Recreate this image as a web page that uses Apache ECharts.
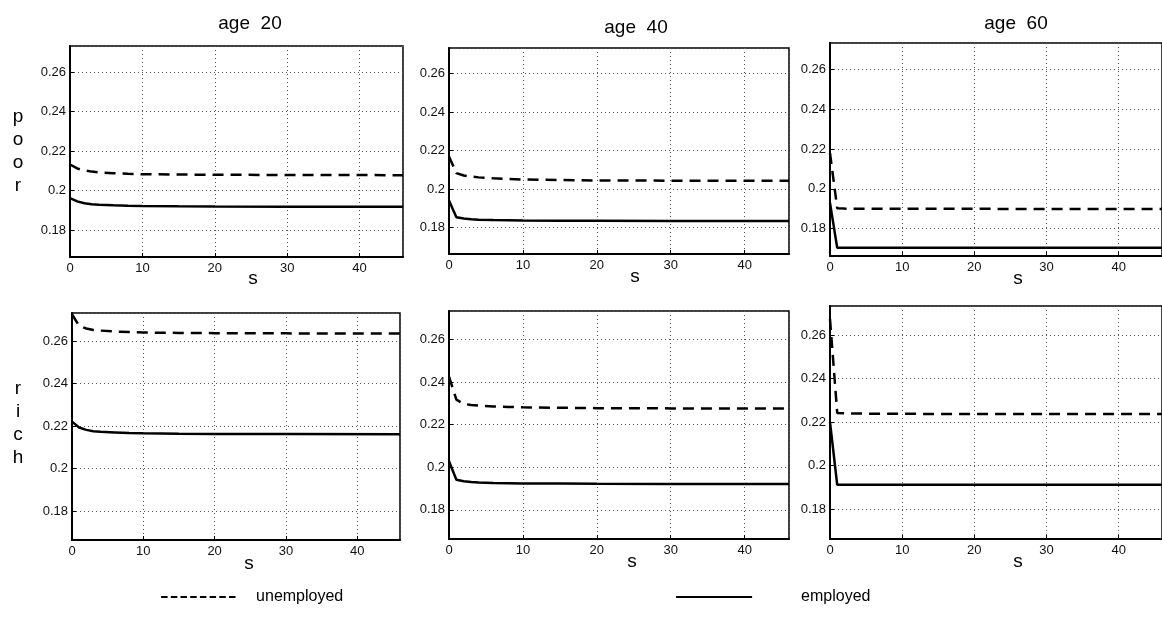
<!DOCTYPE html>
<html>
<head>
<meta charset="utf-8">
<script src="https://cdn.jsdelivr.net/npm/echarts@6/dist/echarts.min.js"></script>
<style>
  html, body { margin: 0; padding: 0; background: #fff; }
  #chart { width: 1162px; height: 637px; }
</style>
</head>
<body>
<div id="chart"></div>
<script>
// Horizon s (years ahead) at which each profile is evaluated
const S = [0, 1, 2, 3, 4, 6, 8, 10, 15, 20, 30, 46];

// poor households
const poor20Unemployed = [0.2132, 0.2112, 0.2102, 0.2096, 0.2092, 0.2088, 0.2085, 0.2083, 0.2081, 0.2080, 0.2079, 0.2078];
const poor20Employed   = [0.1962, 0.1945, 0.1936, 0.1931, 0.1928, 0.1925, 0.1923, 0.1922, 0.1920, 0.1919, 0.1918, 0.1918];
const poor40Unemployed = [0.2170, 0.2083, 0.2071, 0.2065, 0.2061, 0.2056, 0.2053, 0.2050, 0.2047, 0.2045, 0.2044, 0.2043];
const poor40Employed   = [0.1941, 0.1854, 0.1847, 0.1843, 0.1841, 0.1839, 0.1838, 0.1837, 0.1836, 0.1836, 0.1835, 0.1835];
const poor60Unemployed = [0.2180, 0.1903, 0.1901, 0.1900, 0.1900, 0.1900, 0.1900, 0.1900, 0.1900, 0.1900, 0.1899, 0.1899];
const poor60Employed   = [0.1930, 0.1704, 0.1704, 0.1704, 0.1704, 0.1704, 0.1704, 0.1704, 0.1704, 0.1704, 0.1704, 0.1704];

// rich households
const rich20Unemployed = [0.2727, 0.2672, 0.2660, 0.2653, 0.2650, 0.2646, 0.2643, 0.2641, 0.2639, 0.2638, 0.2637, 0.2636];
const rich20Employed   = [0.2221, 0.2193, 0.2182, 0.2176, 0.2173, 0.2170, 0.2167, 0.2166, 0.2164, 0.2163, 0.2163, 0.2162];
const rich40Unemployed = [0.2425, 0.2317, 0.2297, 0.2292, 0.2289, 0.2285, 0.2283, 0.2281, 0.2279, 0.2277, 0.2276, 0.2275];
const rich40Employed   = [0.2028, 0.1941, 0.1934, 0.1930, 0.1928, 0.1926, 0.1925, 0.1924, 0.1923, 0.1922, 0.1921, 0.1921];
const rich60Unemployed = [0.2673, 0.2242, 0.2240, 0.2239, 0.2239, 0.2238, 0.2238, 0.2238, 0.2237, 0.2237, 0.2237, 0.2237];
const rich60Employed   = [0.2200, 0.1912, 0.1912, 0.1912, 0.1912, 0.1912, 0.1912, 0.1912, 0.1912, 0.1912, 0.1912, 0.1912];

const columnTitles = ['age  20', 'age  40', 'age  60'];
const rowTitles = ['poor', 'rich'];
const xName = 's';
const seriesNames = ['unemployed', 'employed'];

const xRange = [0, 46];
const yRange = [0.1663, 0.2733];

// panels in reading order: poor 20/40/60, rich 20/40/60
const panelData = [
  [poor20Unemployed, poor20Employed],
  [poor40Unemployed, poor40Employed],
  [poor60Unemployed, poor60Employed],
  [rich20Unemployed, rich20Employed],
  [rich40Unemployed, rich40Employed],
  [rich60Unemployed, rich60Employed]
];

// layout of each panel box (px)
const panelBoxes = [
  { left: 70,  top: 46,  width: 333, height: 211 },
  { left: 449, top: 48,  width: 340, height: 206 },
  { left: 830, top: 43,  width: 342, height: 213 },
  { left: 72,  top: 313, width: 328, height: 227 },
  { left: 449, top: 311, width: 340, height: 228 },
  { left: 830, top: 306, width: 344, height: 233 }
];

const TICK_FONT = '"Liberation Sans", Arial, Helvetica, sans-serif';
const INK = '#000';
const dashPattern = [11, 7];

const grids = [], xAxes = [], yAxes = [], series = [];
panelBoxes.forEach((b, i) => {
  grids.push({
    left: b.left, top: b.top, width: b.width, height: b.height,
    show: true, borderColor: INK, borderWidth: 1.5, backgroundColor: 'transparent'
  });
  xAxes.push({
    type: 'value', gridIndex: i, min: xRange[0], max: xRange[1], splitNumber: 5,
    axisLine: { show: true, onZero: false, lineStyle: { color: INK, width: 2 } },
    axisTick: { show: true, inside: true, length: 4, lineStyle: { color: INK, width: 1 } },
    axisLabel: { color: '#111', fontSize: 13, fontFamily: TICK_FONT, margin: 5, showMaxLabel: false },
    splitLine: { show: true, lineStyle: { color: '#555', width: 1, type: [1, 3] } }
  });
  yAxes.push({
    type: 'value', gridIndex: i, min: yRange[0], max: yRange[1], splitNumber: 5,
    axisLine: { show: true, onZero: false, lineStyle: { color: INK, width: 2 } },
    axisTick: { show: true, inside: true, length: 4, lineStyle: { color: INK, width: 1 } },
    axisLabel: { color: '#111', fontSize: 13, fontFamily: TICK_FONT, margin: 4, showMinLabel: false, showMaxLabel: false },
    splitLine: { show: true, lineStyle: { color: '#555', width: 1, type: [1, 3] } }
  });
  panelData[i].forEach((vals, k) => {
    series.push({
      name: seriesNames[k],
      type: 'line',
      xAxisIndex: i, yAxisIndex: i,
      data: S.map((s, j) => [s, vals[j]]),
      symbol: 'none',
      smooth: false,
      silent: true,
      lineStyle: { color: INK, width: 2.5, type: k === 0 ? dashPattern : 'solid' },
      itemStyle: { color: INK },
      z: 3
    });
  });
});

// text placed around the panel array
const textFont = (size) => size + 'px "Liberation Sans", Arial, Helvetica, sans-serif';
const graphics = [];
const titleAnchors = [{ x: 250, y: 24 }, { x: 636, y: 28 }, { x: 1016, y: 24 }];
columnTitles.forEach((t, i) => {
  graphics.push({ type: 'text', x: titleAnchors[i].x, y: titleAnchors[i].y,
    style: { text: t, font: textFont(19), fill: INK, align: 'center', verticalAlign: 'middle' } });
});
const rowAnchors = [{ x: 18, y: 151 }, { x: 18, y: 423 }];
rowTitles.forEach((t, i) => {
  graphics.push({ type: 'text', x: rowAnchors[i].x, y: rowAnchors[i].y,
    style: { text: t.split('').join('\n'), font: textFont(19), lineHeight: 23, fill: INK, align: 'center', verticalAlign: 'middle' } });
});
const sAnchors = [
  { x: 253, y: 279 }, { x: 635, y: 277 }, { x: 1018, y: 279 },
  { x: 249, y: 564 }, { x: 632, y: 562 }, { x: 1018, y: 562 }
];
sAnchors.forEach((p) => {
  graphics.push({ type: 'text', x: p.x, y: p.y,
    style: { text: xName, font: textFont(19), fill: INK, align: 'center', verticalAlign: 'middle' } });
});

const legendText = { color: INK, fontSize: 16, fontFamily: '"Liberation Sans", Arial, sans-serif', padding: [0, 0, 0, 14] };
const hiddenSymbol = { color: 'transparent', borderWidth: 0, opacity: 0 };

const option = {
  backgroundColor: '#fff',
  animation: false,
  grid: grids,
  xAxis: xAxes,
  yAxis: yAxes,
  series: series,
  legend: [
    { data: [seriesNames[0]], left: 160, top: 589, padding: 0, itemWidth: 76, itemHeight: 14, selectedMode: false,
      textStyle: legendText, itemStyle: hiddenSymbol, lineStyle: { type: [6.5, 3.2], width: 2.2 } },
    { data: [seriesNames[1]], left: 675, top: 589, padding: 0, itemWidth: 76, itemHeight: 14, selectedMode: false,
      textStyle: Object.assign({}, legendText, { padding: [0, 0, 0, 44] }), itemStyle: hiddenSymbol, lineStyle: { width: 2.2 } }
  ],
  graphic: graphics
};

const chart = echarts.init(document.getElementById('chart'), null, { renderer: 'canvas' });
chart.setOption(option);
</script>
</body>
</html>
